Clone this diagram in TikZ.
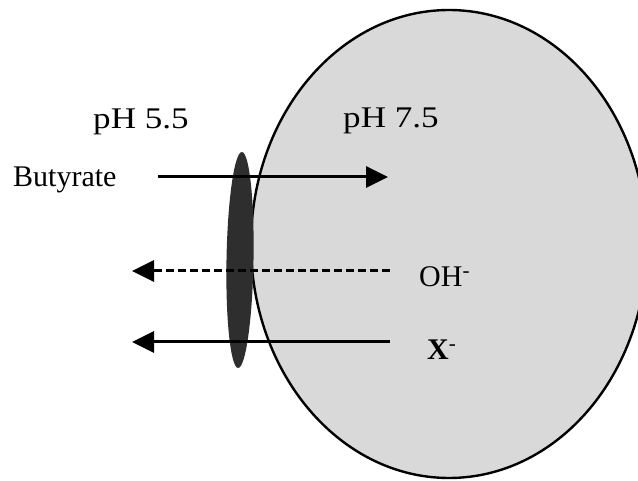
\documentclass[tikz,border=0pt]{standalone}
\usepackage{fontspec}
\setmainfont{Liberation Serif}
\usetikzlibrary{arrows.meta}
\definecolor{cellgray}{HTML}{D9D9D9}
\definecolor{carrier}{HTML}{2E2E2E}
\tikzset{
  lbl/.style={anchor=base west, inner sep=0pt, font=\fontsize{30}{34}\selectfont},
  flux/.style={line width=3pt, -{Triangle[length=22pt,width=21pt]}},
  fluxdash/.style={flux, dash pattern=on 8pt off 4pt}
}
\begin{document}
\begin{tikzpicture}[x=1pt,y=-1pt]
\useasboundingbox (0,0) rectangle (638,481);
\clip (0,0) rectangle (638,481);
\fill[white] (0,0) rectangle (638,481);
% cell
\draw[line width=2.4pt, fill=cellgray] (449,244) ellipse [x radius=198, y radius=234];
% carrier
\fill[carrier, rotate around={-1:(240,260)}] (240,260) ellipse [x radius=13.5, y radius=108];
% labels
\node[lbl, xscale=1.17] (ph1) at (93,129) {pH 5.5};
\node[lbl, xscale=1.17] (ph2) at (343,128) {pH 7.5};
\node[lbl] (but) at (13,187) {Butyrate};
\node[lbl] (oh) at (419,287) {OH\textsuperscript{-}};
\node[lbl] (x) at (427,360) {\textbf{X}\textsuperscript{-}};
% arrow ends
\coordinate (b0) at (158,177);
\coordinate (b1) at (388,177);
\coordinate (o0) at (390,271);
\coordinate (o1) at (132,271);
\coordinate (x0) at (390,342);
\coordinate (x1) at (132,342);
\draw[flux] (b0) -- (b1);
\draw[fluxdash] (o0) -- (o1);
\draw[flux] (x0) -- (x1);
\end{tikzpicture}
\end{document}
